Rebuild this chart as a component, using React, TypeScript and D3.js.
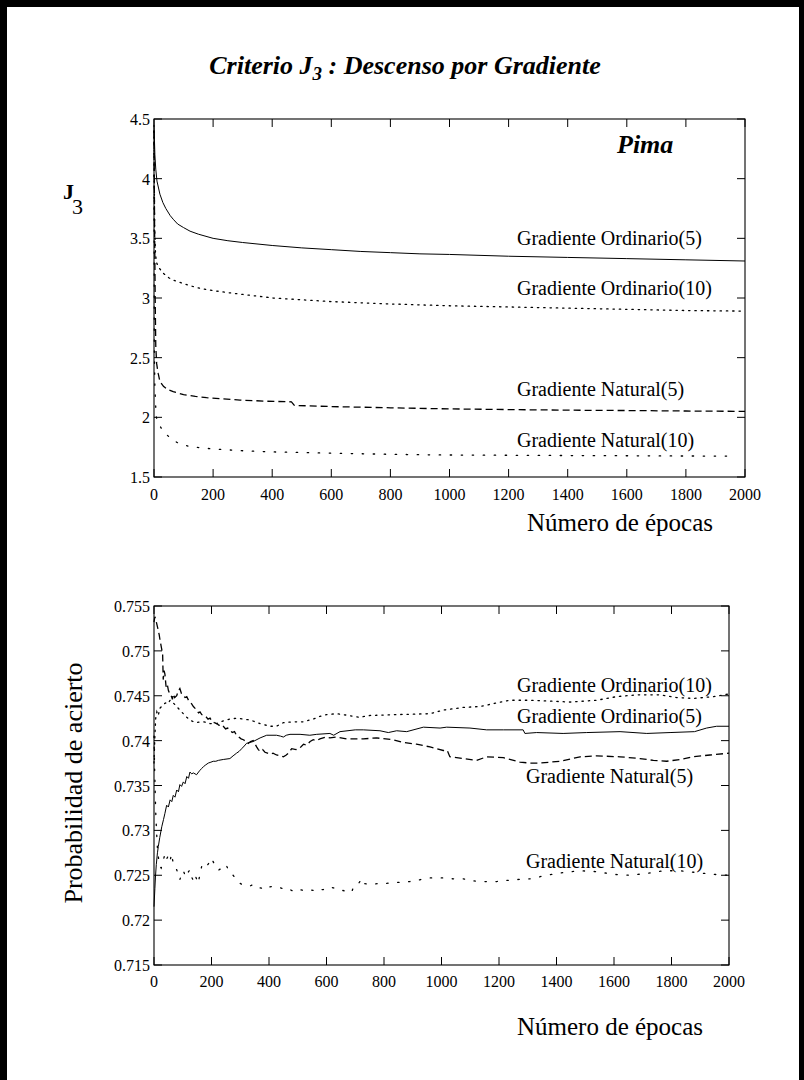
import React from 'react';
import * as d3 from 'd3';

// ---------- data ----------
const X_TICKS = [0, 200, 400, 600, 800, 1000, 1200, 1400, 1600, 1800, 2000];
const J3_TICKS = [1.5, 2, 2.5, 3, 3.5, 4, 4.5];
const PROB_TICKS = [0.715, 0.72, 0.725, 0.73, 0.735, 0.74, 0.745, 0.75, 0.755];

type Pt = [number, number];

// Top panel: criterion J3 vs epochs
const J3_ORD5: Pt[] = [[0,4.45],[3,4.2],[6,4.08],[10,3.98],[20,3.87],[30,3.8],[40,3.75],[55,3.69],[65,3.66],[80,3.62],[100,3.59],[122,3.56],[150,3.535],[200,3.5],[250,3.48],[300,3.465],[400,3.44],[500,3.42],[600,3.405],[700,3.39],[800,3.38],[900,3.37],[1000,3.365],[1200,3.35],[1400,3.34],[1600,3.33],[1800,3.32],[2000,3.31]];
const J3_ORD10: Pt[] = [[0,4.4],[2,3.6],[5,3.38],[8,3.3],[15,3.26],[30,3.21],[50,3.17],[65,3.15],[100,3.12],[140,3.09],[178,3.07],[250,3.045],[300,3.03],[403,3.0],[500,2.985],[600,2.97],[800,2.95],[1000,2.935],[1200,2.925],[1400,2.915],[1600,2.905],[1800,2.895],[2000,2.89]];
const J3_NAT5: Pt[] = [[0,4.4],[2,3.6],[4,3.0],[6,2.6],[9,2.45],[14,2.37],[20,2.3],[32,2.26],[45,2.235],[65,2.215],[100,2.19],[140,2.175],[178,2.165],[230,2.155],[291,2.145],[380,2.135],[465,2.13],[475,2.1],[600,2.09],[800,2.08],[968,2.072],[1200,2.065],[1400,2.06],[1600,2.057],[1800,2.053],[2000,2.05]];
const J3_NAT10: Pt[] = [[0,4.4],[1,2.6],[3,2.25],[6,2.08],[8,2.0],[15,1.95],[28,1.894],[53,1.83],[81,1.785],[122,1.754],[200,1.735],[300,1.72],[403,1.71],[600,1.7],[800,1.69],[968,1.685],[1200,1.682],[1400,1.68],[1600,1.678],[1800,1.676],[1966,1.675]];

// Bottom panel: probability of success vs epochs
const P_ORD5: Pt[] = [[0,0.7215],[3,0.7235],[5,0.7248],[8,0.7262],[12,0.7275],[15,0.7282],[20,0.7292],[27,0.7304],[33,0.7312],[38,0.7319],[44,0.7328],[50,0.7326],[56,0.7334],[62,0.7332],[67,0.7339],[73,0.7337],[79,0.7345],[85,0.7343],[90,0.7351],[96,0.7349],[102,0.7354],[108,0.7352],[114,0.736],[120,0.7358],[125,0.7365],[131,0.7363],[137,0.7364],[148,0.7362],[155,0.7365],[160,0.7367],[166,0.7369],[172,0.7371],[180,0.7373],[189,0.7375],[198,0.7376],[206,0.7377],[215,0.7377],[224,0.7378],[241,0.7379],[264,0.738],[275,0.7383],[287,0.7386],[296,0.7388],[305,0.7391],[314,0.7394],[322,0.7397],[345,0.7399],[369,0.7403],[392,0.7406],[426,0.7406],[440,0.7405],[450,0.7404],[460,0.7406],[473,0.7407],[508,0.7407],[542,0.7406],[566,0.7407],[612,0.7408],[625,0.7406],[647,0.741],[700,0.7412],[728,0.7412],[786,0.7411],[815,0.7409],[844,0.7411],[879,0.741],[937,0.7415],[995,0.7414],[1018,0.7415],[1099,0.7414],[1157,0.7412],[1215,0.7412],[1284,0.7412],[1290,0.7408],[1331,0.7409],[1423,0.7408],[1505,0.7409],[1621,0.741],[1714,0.7408],[1795,0.7409],[1880,0.741],[1922,0.7414],[1957,0.7416],[2000,0.7416]];
const P_ORD10: Pt[] = [[0,0.7375],[3,0.7405],[6,0.7425],[10,0.7432],[15,0.7428],[20,0.7436],[26,0.7438],[32,0.744],[40,0.7442],[48,0.7441],[56,0.7445],[67,0.7442],[79,0.7438],[90,0.7434],[102,0.743],[114,0.7426],[125,0.7423],[137,0.7421],[148,0.742],[160,0.7421],[172,0.7421],[195,0.7419],[218,0.7419],[241,0.7422],[264,0.7424],[287,0.7425],[311,0.7424],[334,0.7423],[369,0.7419],[403,0.7416],[426,0.7416],[450,0.742],[484,0.7421],[519,0.7421],[554,0.7424],[577,0.7427],[600,0.7429],[635,0.743],[658,0.7429],[716,0.7426],[751,0.7428],[844,0.7429],[960,0.743],[1006,0.7434],[1076,0.7437],[1134,0.7438],[1192,0.7442],[1238,0.7445],[1308,0.7445],[1447,0.7443],[1540,0.7445],[1609,0.7449],[1679,0.7451],[1760,0.7451],[1818,0.7448],[1876,0.7447],[1945,0.7449],[2000,0.7452]];
const P_NAT5: Pt[] = [[0,0.7532],[3,0.7538],[6,0.7535],[9,0.7531],[14,0.7524],[18,0.7518],[21,0.7512],[25,0.7505],[28,0.75],[30,0.7497],[32,0.7468],[35,0.7478],[38,0.7474],[42,0.746],[46,0.7463],[50,0.7456],[55,0.7452],[61,0.7449],[64,0.7446],[67,0.7452],[72,0.7448],[79,0.745],[84,0.7455],[90,0.7458],[96,0.7452],[102,0.745],[108,0.7448],[114,0.7449],[120,0.7445],[125,0.7443],[131,0.7441],[137,0.7438],[143,0.7436],[148,0.7434],[155,0.7431],[160,0.7432],[166,0.7429],[172,0.7428],[180,0.7427],[188,0.7424],[195,0.7425],[203,0.7421],[210,0.742],[218,0.7419],[226,0.7417],[234,0.7418],[241,0.7416],[249,0.7413],[256,0.7414],[264,0.7412],[272,0.7409],[280,0.741],[287,0.7406],[295,0.7404],[303,0.7402],[311,0.7401],[320,0.7399],[328,0.7397],[336,0.7399],[345,0.74],[352,0.7396],[357,0.7393],[363,0.739],[369,0.7388],[378,0.739],[386,0.7387],[395,0.7386],[403,0.7385],[414,0.7386],[426,0.7384],[438,0.7383],[450,0.7382],[460,0.7384],[467,0.7386],[479,0.7391],[494,0.739],[508,0.7392],[520,0.7396],[531,0.7395],[543,0.7399],[554,0.7401],[566,0.74],[577,0.7402],[600,0.7404],[612,0.7403],[635,0.7404],[670,0.7402],[728,0.7402],[774,0.7403],[832,0.7401],[867,0.7398],[913,0.7396],[960,0.7393],[1006,0.7389],[1020,0.7389],[1029,0.7382],[1076,0.738],[1122,0.7378],[1157,0.7382],[1215,0.7381],[1273,0.7376],[1308,0.7375],[1343,0.7375],[1412,0.7377],[1482,0.7382],[1540,0.7383],[1621,0.7382],[1690,0.738],[1737,0.7378],[1783,0.7377],[1830,0.7379],[1876,0.7382],[1934,0.7384],[2000,0.7386]];
const P_NAT10: Pt[] = [[0,0.7405],[2,0.737],[4,0.7345],[6,0.732],[9,0.7298],[12,0.728],[16,0.7268],[20,0.726],[25,0.7258],[30,0.7264],[35,0.727],[38,0.7274],[44,0.7268],[50,0.7272],[56,0.7266],[61,0.7274],[67,0.7263],[73,0.726],[79,0.7256],[85,0.725],[90,0.7245],[96,0.7252],[102,0.7255],[108,0.725],[114,0.7248],[120,0.7254],[125,0.7256],[131,0.7248],[137,0.7244],[143,0.725],[148,0.7246],[154,0.7241],[160,0.7252],[166,0.726],[175,0.7257],[183,0.726],[192,0.7264],[200,0.7269],[209,0.7263],[218,0.7262],[226,0.7256],[235,0.7258],[244,0.7262],[253,0.726],[262,0.7254],[270,0.7252],[280,0.7248],[287,0.7244],[299,0.7241],[311,0.7239],[322,0.7239],[334,0.7238],[346,0.724],[357,0.7237],[369,0.7236],[380,0.7235],[392,0.7238],[403,0.7237],[415,0.7238],[426,0.7237],[438,0.7236],[450,0.7235],[461,0.7233],[473,0.7234],[485,0.7232],[496,0.7232],[508,0.7234],[519,0.7233],[531,0.7234],[542,0.7234],[554,0.7233],[566,0.7235],[577,0.7234],[589,0.7234],[600,0.7236],[612,0.7237],[623,0.7236],[635,0.7235],[647,0.7233],[658,0.7233],[670,0.7232],[680,0.7231],[687,0.7231],[693,0.7236],[699,0.7239],[710,0.724],[716,0.7243],[722,0.7238],[728,0.7241],[745,0.724],[763,0.724],[786,0.7241],[809,0.7241],[838,0.7242],[867,0.7242],[890,0.7243],[913,0.7244],[937,0.7246],[960,0.7247],[1006,0.7247],[1040,0.7246],[1076,0.7246],[1105,0.7244],[1134,0.7243],[1192,0.7243],[1250,0.7245],[1308,0.7246],[1366,0.725],[1424,0.7253],[1482,0.7255],[1540,0.7254],[1598,0.7251],[1656,0.725],[1714,0.7252],[1772,0.7255],[1830,0.7255],[1888,0.7253],[1945,0.7251],[2000,0.725]];

const SERIES_NAMES = ['Gradiente Ordinario(5)', 'Gradiente Ordinario(10)', 'Gradiente Natural(5)', 'Gradiente Natural(10)'];

// ---------- styling ----------
const FONT = "'Liberation Serif', 'Times New Roman', Times, serif";
const DASH: Record<string, string | undefined> = {
  solid: undefined,
  dot: '1.4,4.9',
  dash: '7,4',
  sparse: '1.4,9.6',
};

type Box = { left: number; right: number; top: number; bottom: number };

function Axes({ box, x, y, yTicks, yFmt, xLabelDy }: {
  box: Box; x: d3.ScaleLinear<number, number>; y: d3.ScaleLinear<number, number>;
  yTicks: number[]; yFmt: (v: number) => string; xLabelDy: number;
}) {
  const T = 8;
  return (
    <g>
      <rect x={box.left} y={box.top} width={box.right - box.left} height={box.bottom - box.top}
        fill="none" stroke="#000" strokeWidth={1.1} />
      {X_TICKS.map((t) => (
        <g key={'x' + t}>
          <line x1={x(t)} x2={x(t)} y1={box.bottom} y2={box.bottom - T} stroke="#000" />
          <line x1={x(t)} x2={x(t)} y1={box.top} y2={box.top + T} stroke="#000" />
          <text x={x(t)} y={box.bottom + xLabelDy} textAnchor="middle" fontSize={16} fontFamily={FONT}>{t}</text>
        </g>
      ))}
      {yTicks.map((t) => (
        <g key={'y' + t}>
          <line x1={box.left} x2={box.left + T} y1={y(t)} y2={y(t)} stroke="#000" />
          <line x1={box.right} x2={box.right - T} y1={y(t)} y2={y(t)} stroke="#000" />
          <text x={150} y={y(t) + 6} textAnchor="end" fontSize={16} fontFamily={FONT}>{yFmt(t)}</text>
        </g>
      ))}
    </g>
  );
}

function Curve({ data, x, y, style }: { data: Pt[]; x: any; y: any; style: string }) {
  const line = d3.line<Pt>().x((d) => x(d[0])).y((d) => y(d[1]));
  return (
    <path d={line(data) || ''} fill="none" stroke="#000" strokeWidth={style === 'solid' ? 1 : 1.3}
      strokeDasharray={DASH[style]} strokeLinecap={style === 'dot' || style === 'sparse' ? 'round' : 'butt'} />
  );
}

export default function App() {
  const topBox: Box = { left: 154, right: 745, top: 119, bottom: 477 };
  const botBox: Box = { left: 154, right: 729, top: 606, bottom: 965 };

  const xTop = d3.scaleLinear().domain([0, 2000]).range([topBox.left, topBox.right]);
  const yTop = d3.scaleLinear().domain([1.5, 4.5]).range([topBox.bottom, topBox.top]);
  const xBot = d3.scaleLinear().domain([0, 2000]).range([botBox.left, botBox.right]);
  const yBot = d3.scaleLinear().domain([0.715, 0.755]).range([botBox.bottom, botBox.top]);

  const fmtJ = (v: number) => String(v);
  const fmtP = (v: number) => String(+v.toFixed(3));

  const lbl = { fontSize: 20, fontFamily: FONT } as const;

  return (
    <svg width={804} height={1080} style={{ position: 'absolute', left: 0, top: 0, background: '#fff' }}>
      <rect x={0} y={0} width={804} height={1080} fill="#fff" />
      {/* page frame */}
      <rect x={0} y={0} width={7} height={1080} fill="#000" />
      <rect x={0} y={0} width={804} height={7} fill="#000" />
      <rect x={799} y={0} width={5} height={1080} fill="#000" />

      {/* title */}
      <text x={405} y={74} textAnchor="middle" fontFamily={FONT} fontWeight="bold" fontStyle="italic" fontSize={26}>
        Criterio J<tspan fontSize={19} dy={6}>3</tspan><tspan dy={-6}> : Descenso por Gradiente</tspan>
      </text>

      {/* ---- top panel ---- */}
      <Axes box={topBox} x={xTop} y={yTop} yTicks={J3_TICKS} yFmt={fmtJ} xLabelDy={23} />
      <Curve data={J3_ORD5} x={xTop} y={yTop} style="solid" />
      <Curve data={J3_ORD10} x={xTop} y={yTop} style="dot" />
      <Curve data={J3_NAT5} x={xTop} y={yTop} style="dash" />
      <Curve data={J3_NAT10} x={xTop} y={yTop} style="sparse" />
      <text x={617} y={153} fontFamily={FONT} fontWeight="bold" fontStyle="italic" fontSize={26}>Pima</text>
      <text x={517} y={245} {...lbl}>{SERIES_NAMES[0]}</text>
      <text x={517} y={295} {...lbl}>{SERIES_NAMES[1]}</text>
      <text x={517} y={396} {...lbl}>{SERIES_NAMES[2]}</text>
      <text x={517} y={447} {...lbl}>{SERIES_NAMES[3]}</text>
      <text x={63} y={199} fontFamily={FONT} fontSize={22}>
        <tspan fontWeight="bold">J</tspan>
      </text>
      <text x={72} y={214} fontFamily={FONT} fontSize={22}>3</text>
      <text x={527} y={531} fontFamily={FONT} fontSize={25}>Número de épocas</text>

      {/* ---- bottom panel ---- */}
      <Axes box={botBox} x={xBot} y={yBot} yTicks={PROB_TICKS} yFmt={fmtP} xLabelDy={22} />
      <Curve data={P_ORD5} x={xBot} y={yBot} style="solid" />
      <Curve data={P_ORD10} x={xBot} y={yBot} style="dot" />
      <Curve data={P_NAT5} x={xBot} y={yBot} style="dash" />
      <Curve data={P_NAT10} x={xBot} y={yBot} style="sparse" />
      <text x={517} y={692} {...lbl}>{SERIES_NAMES[1]}</text>
      <text x={517} y={723} {...lbl}>{SERIES_NAMES[0]}</text>
      <text x={526} y={783} {...lbl}>{SERIES_NAMES[2]}</text>
      <text x={526} y={868} {...lbl}>{SERIES_NAMES[3]}</text>
      <text transform="translate(82,783) rotate(-90)" textAnchor="middle" fontFamily={FONT} fontSize={26}>Probabilidad de acierto</text>
      <text x={517} y={1035} fontFamily={FONT} fontSize={25}>Número de épocas</text>
    </svg>
  );
}
